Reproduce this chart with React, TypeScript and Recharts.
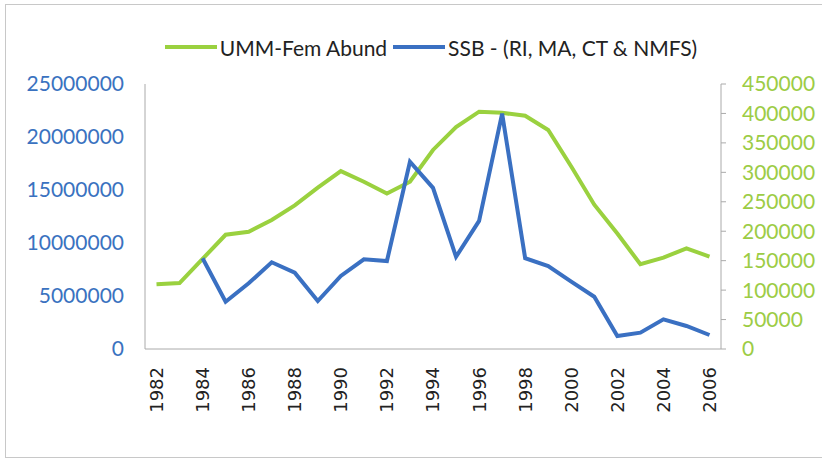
import {
  LineChart,
  Line,
  XAxis,
  YAxis,
  Legend,
} from "recharts";

const YEARS = [
  "1982", "1983", "1984", "1985", "1986", "1987", "1988", "1989", "1990",
  "1991", "1992", "1993", "1994", "1995", "1996", "1997", "1998", "1999",
  "2000", "2001", "2002", "2003", "2004", "2005", "2006",
];

// UMM female abundance (right axis)
const UMM_FEM = [
  110000, 112000, 153000, 194000, 199000, 219000, 244000, 274000, 302000,
  284000, 264000, 284000, 338000, 377000, 403000, 401000, 396000, 372000,
  310000, 245000, 196000, 144000, 155000, 171000, 157000,
];

// SSB (left axis), no values for 1982-83
const SSB = [
  null, null, 8560000, 4460000, 6200000, 8180000, 7200000, 4530000, 6890000,
  8460000, 8300000, 17670000, 15200000, 8700000, 12080000, 22200000, 8560000,
  7830000, 6350000, 4930000, 1230000, 1540000, 2800000, 2170000, 1320000,
];

const LEFT_TICKS = [0, 5000000, 10000000, 15000000, 20000000, 25000000];
const RIGHT_TICKS = [0, 50000, 100000, 150000, 200000, 250000, 300000, 350000, 400000, 450000];

const GREEN = "#9ad13f";
const BLUE = "#3a70c2";
const FONT = "Lato, 'Open Sans', sans-serif";

const data = YEARS.map((year, i) => ({ year, umm: UMM_FEM[i], ssb: SSB[i] }));

function YearTick({ x, y, payload }: any) {
  return (
    <text
      x={x}
      y={y + 10}
      transform={`rotate(-90 ${x} ${y + 10})`}
      textAnchor="end"
      dy="0.36em"
      fill="#222"
      fontSize={18}
      fontFamily="'DejaVu Sans', sans-serif"
    >
      {payload.value}
    </text>
  );
}

function ChartLegend() {
  const items = [
    { label: "UMM-Fem Abund", color: GREEN },
    { label: "SSB - (RI, MA, CT & NMFS)", color: BLUE },
  ];
  return (
    <div
      style={{
        display: "flex",
        justifyContent: "center",
        alignItems: "center",
        height: 30,
        fontFamily: FONT,
        fontSize: 21,
        color: "#222",
        paddingLeft: 46,
      }}
    >
      {items.map((it) => (
        <span key={it.label} style={{ display: "flex", alignItems: "center", marginRight: 6 }}>
          <span style={{ display: "inline-block", width: 52, height: 4, background: it.color, marginRight: 3 }} />
          {it.label}
        </span>
      ))}
    </div>
  );
}

export default function App() {
  return (
    <div style={{ position: "absolute", left: 0, top: 0, width: 822, height: 461, background: "#fff" }}>
      <div
        style={{
          position: "absolute",
          left: 5,
          top: 4,
          width: 830,
          height: 452,
          border: "1px solid #c8c8c8",
        }}
      />
      <LineChart width={822} height={461} data={data} margin={{ top: 54, right: 0, bottom: 0, left: 0 }}>
        <XAxis
          dataKey="year"
          interval={1}
          padding={{ left: 11.5, right: 11.5 }}
          tick={<YearTick />}
          tickLine={false}
          axisLine={{ stroke: "#aaa" }}
          height={112}
        />
        <YAxis
          yAxisId="left"
          domain={[0, 25000000]}
          ticks={LEFT_TICKS}
          interval={0}
          width={145}
          tickLine={false}
          tickSize={6}
          tickMargin={15}
          axisLine={{ stroke: "#aaa" }}
          tick={{ fill: "#3a72c0", fontSize: 21, fontFamily: FONT }}
        />
        <YAxis
          yAxisId="right"
          orientation="right"
          domain={[0, 450000]}
          ticks={RIGHT_TICKS}
          interval={0}
          width={101}
          tickSize={5}
          tickMargin={16}
          tickLine={{ stroke: "#aaa" }}
          axisLine={{ stroke: "#aaa" }}
          tick={{ fill: "#9ccc45", fontSize: 21, fontFamily: FONT, textAnchor: "start" }}
        />
        <Legend verticalAlign="top" content={<ChartLegend />} wrapperStyle={{ top: 32, left: 0, width: 822 }} />
        <Line
          yAxisId="right"
          dataKey="umm"
          name="UMM-Fem Abund"
          stroke={GREEN}
          strokeWidth={4}
          dot={false}
          isAnimationActive={false}
        />
        <Line
          yAxisId="left"
          dataKey="ssb"
          name="SSB - (RI, MA, CT & NMFS)"
          stroke={BLUE}
          strokeWidth={4}
          dot={false}
          isAnimationActive={false}
        />
      </LineChart>
    </div>
  );
}
